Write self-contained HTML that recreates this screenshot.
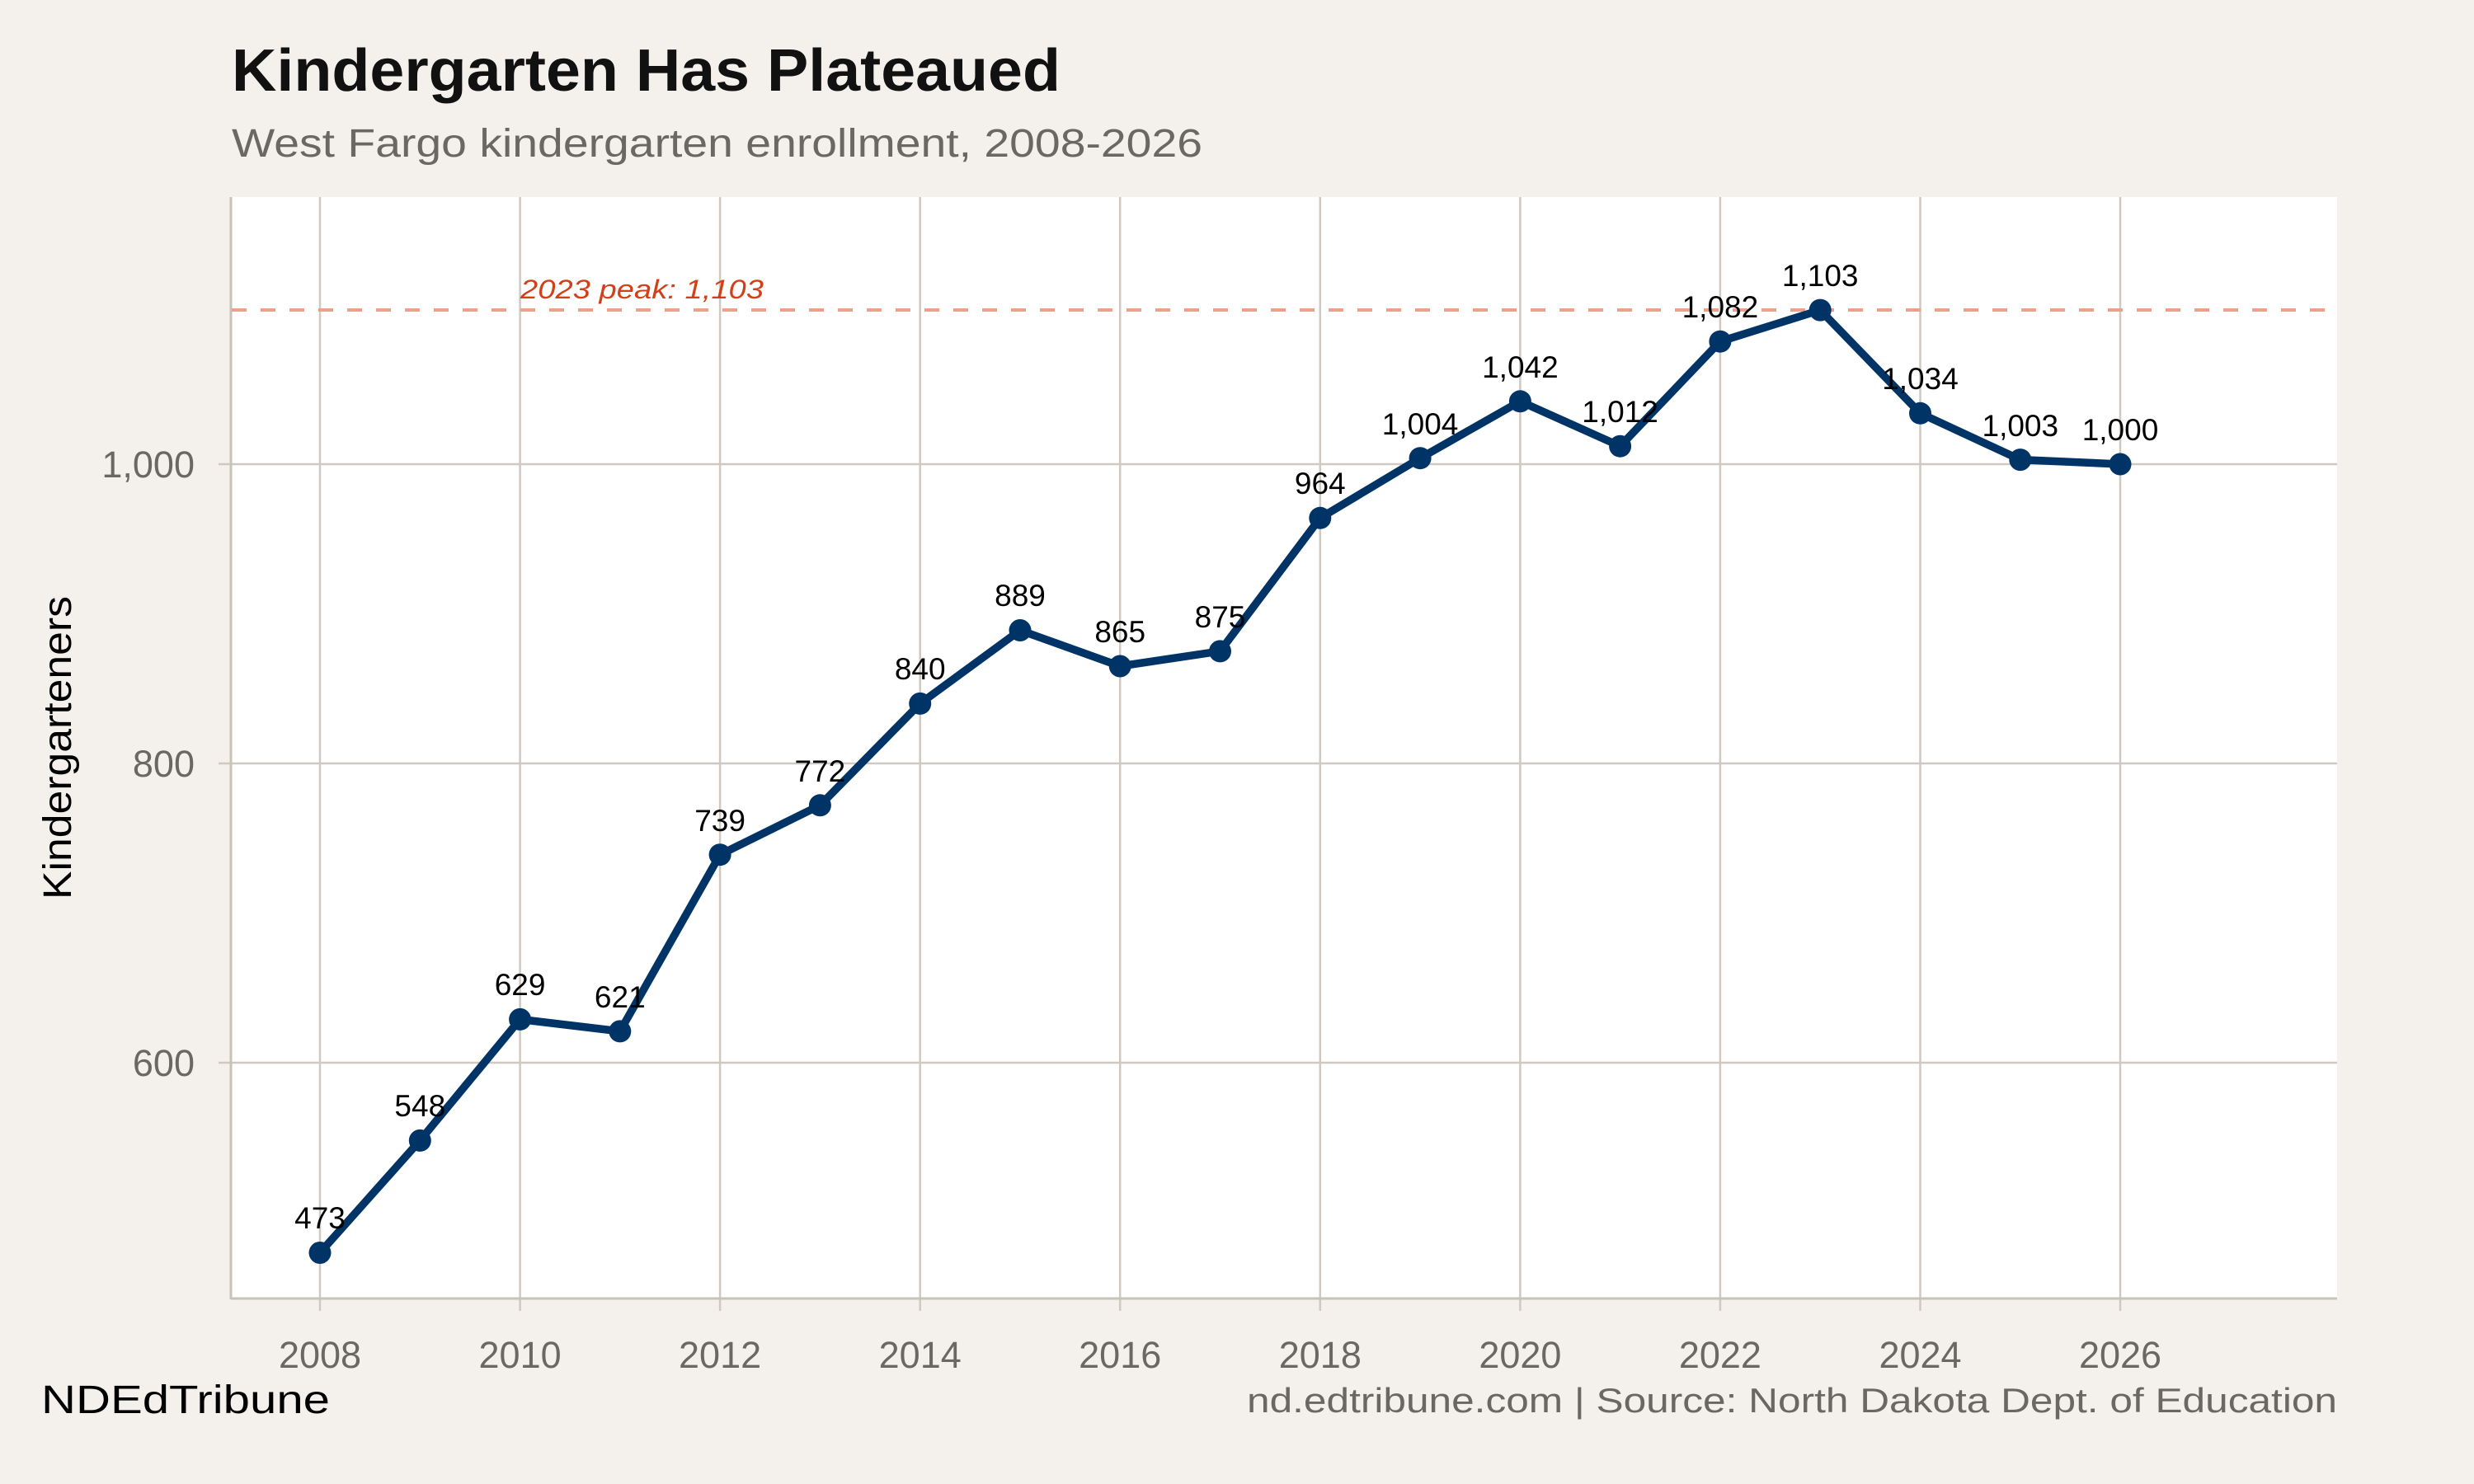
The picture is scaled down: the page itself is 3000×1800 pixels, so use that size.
<!DOCTYPE html>
<html><head><meta charset="utf-8"><style>
html,body{margin:0;padding:0;background:#f4f1ec;}
svg{display:block;font-family:"Liberation Sans",Arial,sans-serif;}
</style></head><body>
<svg width="3000" height="1800" viewBox="0 0 3000 1800" xmlns="http://www.w3.org/2000/svg">
<rect width="3000" height="1800" fill="#f4f1ec"/>
<rect x="281" y="239" width="2553" height="1336" fill="#ffffff"/>
<g stroke="#cfc9c1" stroke-width="2.5">
<line x1="281" x2="2834" y1="563" y2="563"/>
<line x1="281" x2="2834" y1="926" y2="926"/>
<line x1="281" x2="2834" y1="1289" y2="1289"/>
<line x1="388" x2="388" y1="239" y2="1590"/>
<line x1="630.6" x2="630.6" y1="239" y2="1590"/>
<line x1="873.1" x2="873.1" y1="239" y2="1590"/>
<line x1="1115.7" x2="1115.7" y1="239" y2="1590"/>
<line x1="1358.2" x2="1358.2" y1="239" y2="1590"/>
<line x1="1600.8" x2="1600.8" y1="239" y2="1590"/>
<line x1="1843.4" x2="1843.4" y1="239" y2="1590"/>
<line x1="2085.9" x2="2085.9" y1="239" y2="1590"/>
<line x1="2328.5" x2="2328.5" y1="239" y2="1590"/>
<line x1="2571" x2="2571" y1="239" y2="1590"/>
<line x1="265" x2="281" y1="563" y2="563"/>
<line x1="265" x2="281" y1="926" y2="926"/>
<line x1="265" x2="281" y1="1289" y2="1289"/>
</g>
<g stroke="#c8c2b8" stroke-width="3">
<line x1="280" x2="2834" y1="1575" y2="1575"/>
<line x1="280" x2="280" y1="239" y2="1576"/>
</g>
<line x1="281" x2="2834" y1="376" y2="376" stroke="#eba08a" stroke-width="4" stroke-dasharray="18,17"/>
<text x="631" y="362" font-size="32" font-style="italic" fill="#d2401a" textLength="295" lengthAdjust="spacingAndGlyphs">2023 peak: 1,103</text>
<polyline fill="none" stroke="#003366" stroke-width="9.5" stroke-linejoin="round" points="388,1519.5 509.3,1383.4 630.6,1236.4 751.8,1250.9 873.1,1036.7 994.4,976.8 1115.7,853.4 1237,764.5 1358.2,808 1479.5,789.9 1600.8,628.3 1722.1,555.7 1843.4,486.8 1964.6,541.2 2085.9,414.2 2207.2,376.1 2328.5,501.3 2449.8,557.6 2571,563"/>
<g fill="#003366">
<circle cx="388" cy="1519.5" r="13.5"/><circle cx="509.3" cy="1383.4" r="13.5"/><circle cx="630.6" cy="1236.4" r="13.5"/><circle cx="751.8" cy="1250.9" r="13.5"/><circle cx="873.1" cy="1036.7" r="13.5"/><circle cx="994.4" cy="976.8" r="13.5"/><circle cx="1115.7" cy="853.4" r="13.5"/><circle cx="1237" cy="764.5" r="13.5"/><circle cx="1358.2" cy="808" r="13.5"/><circle cx="1479.5" cy="789.9" r="13.5"/><circle cx="1600.8" cy="628.3" r="13.5"/><circle cx="1722.1" cy="555.7" r="13.5"/><circle cx="1843.4" cy="486.8" r="13.5"/><circle cx="1964.6" cy="541.2" r="13.5"/><circle cx="2085.9" cy="414.2" r="13.5"/><circle cx="2207.2" cy="376.1" r="13.5"/><circle cx="2328.5" cy="501.3" r="13.5"/><circle cx="2449.8" cy="557.6" r="13.5"/><circle cx="2571" cy="563" r="13.5"/>
</g>
<g font-size="37" fill="#000" text-anchor="middle">
<text x="388" y="1490">473</text><text x="509.3" y="1354">548</text><text x="630.6" y="1207">629</text><text x="751.8" y="1222">621</text><text x="873.1" y="1008">739</text><text x="994.4" y="948">772</text><text x="1115.7" y="824">840</text><text x="1237" y="735">889</text><text x="1358.2" y="779">865</text><text x="1479.5" y="761">875</text><text x="1600.8" y="599">964</text><text x="1722.1" y="527">1,004</text><text x="1843.4" y="458">1,042</text><text x="1964.6" y="512">1,012</text><text x="2085.9" y="385">1,082</text><text x="2207.2" y="347">1,103</text><text x="2328.5" y="472">1,034</text><text x="2449.8" y="529">1,003</text><text x="2571" y="534">1,000</text>
</g>
<g font-size="45" fill="#6b6761" text-anchor="end">
<text x="236" y="579">1,000</text><text x="236" y="942">800</text><text x="236" y="1305">600</text>
</g>
<g font-size="45" fill="#6b6761" text-anchor="middle">
<text x="388" y="1659">2008</text><text x="630.6" y="1659">2010</text><text x="873.1" y="1659">2012</text><text x="1115.7" y="1659">2014</text><text x="1358.2" y="1659">2016</text><text x="1600.8" y="1659">2018</text><text x="1843.4" y="1659">2020</text><text x="2085.9" y="1659">2022</text><text x="2328.5" y="1659">2024</text><text x="2571" y="1659">2026</text>
</g>
<text transform="translate(86,907) rotate(-90)" font-size="48" fill="#000" text-anchor="middle" textLength="368" lengthAdjust="spacingAndGlyphs">Kindergarteners</text>
<text x="281" y="110" font-size="72" font-weight="bold" fill="#111" textLength="1005" lengthAdjust="spacingAndGlyphs">Kindergarten Has Plateaued</text>
<text x="281" y="190" font-size="48" fill="#6b6761" textLength="1177" lengthAdjust="spacingAndGlyphs">West Fargo kindergarten enrollment, 2008-2026</text>
<text x="50" y="1714" font-size="48" fill="#000" textLength="350" lengthAdjust="spacingAndGlyphs">NDEdTribune</text>
<text x="2834" y="1713" font-size="42" fill="#6b6761" text-anchor="end" textLength="1322" lengthAdjust="spacingAndGlyphs">nd.edtribune.com | Source: North Dakota Dept. of Education</text>
</svg>
</body></html>
